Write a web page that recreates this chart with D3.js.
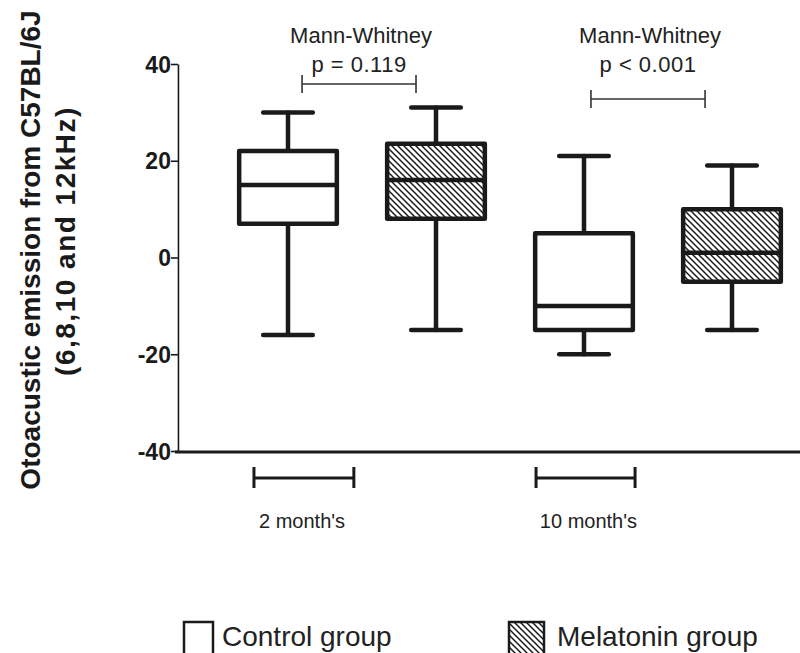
<!DOCTYPE html>
<html>
<head>
<meta charset="utf-8">
<script src="https://cdn.jsdelivr.net/npm/d3@7"></script>
<style>
  html, body { margin: 0; padding: 0; background: #fff; }
  svg { display: block; }
  text { font-family: "Liberation Sans", Arial, sans-serif; fill: #1a1a1a; }
</style>
</head>
<body>
<svg id="chart" width="800" height="653"></svg>
<script>
// ---------- data ----------
const categories = ["2 month's", "10 month's"];
const seriesNames = ["Control group", "Melatonin group"];
// five-number summaries: [min, q1, median, q3, max], one per category
const controlStats   = [[-16, 7, 15, 22, 30], [-20, -15, -10, 5, 21]];
const melatoninStats = [[-15, 8, 16, 23.5, 31], [-15, -5, 1, 10, 19]];
const yTicks = [-40, -20, 0, 20, 40];
const testName = "Mann-Whitney";
const pLabels = ["p = 0.119", "p < 0.001"];

// ---------- layout ----------
const svg = d3.select("#chart");
const ink = "#1a1a1a";

const y = d3.scaleLinear().domain([-40, 40]).range([451, 64]);
// slot index -> pixel (box slots 0..3)
const x = d3.scaleLinear().domain([0, 1]).range([288, 436]);
const axisX = x(-0.7435);
const boxW = x(0.66) - x(0);
const capW = x(0.335) - x(0);

// boxes
const boxes = [];
categories.forEach((c, ci) => {
  boxes.push({ slot: ci * 2,     stats: controlStats[ci],   hatched: false });
  boxes.push({ slot: ci * 2 + 1, stats: melatoninStats[ci], hatched: true  });
});

// hatch pattern
const defs = svg.append("defs");
const pat = defs.append("pattern")
  .attr("id", "hatch").attr("patternUnits", "userSpaceOnUse")
  .attr("width", 6).attr("height", 6);
pat.append("rect").attr("width", 6).attr("height", 6).attr("fill", "#fff");
pat.append("path")
  .attr("d", "M0,0 L6,6 M-3,3 L3,9 M3,-3 L9,3")
  .attr("stroke", ink).attr("stroke-width", 1.5);

// y axis
const yAxis = d3.axisLeft(y).tickValues(yTicks).tickFormat(d => String(d))
  .tickSize(7).tickSizeOuter(0).tickPadding(0);
const gy = svg.append("g").attr("transform", `translate(${axisX},0)`).call(yAxis);
gy.select(".domain").attr("stroke", ink).attr("stroke-width", 1.6);
gy.selectAll(".tick line").attr("stroke", ink).attr("stroke-width", 1.6);
gy.selectAll(".tick text")
  .style("font-family", '"Liberation Sans", Arial, sans-serif')
  .style("font-size", "23px").style("font-weight", "bold").attr("fill", ink)
  .attr("dy", "0.35em");

// x axis baseline
svg.append("line")
  .attr("x1", axisX - 3).attr("x2", 800)
  .attr("y1", y(-40) + 1).attr("y2", y(-40) + 1)
  .attr("stroke", ink).attr("stroke-width", 3);

// box plots
const gb = svg.append("g").attr("stroke", ink).attr("stroke-width", 4.5)
  .attr("stroke-linecap", "round").attr("stroke-linejoin", "round");
boxes.forEach(b => {
  const [mn, q1, md, q3, mx] = b.stats;
  const cx = x(b.slot);
  const g = gb.append("g");
  g.append("line").attr("x1", cx).attr("x2", cx).attr("y1", y(mx)).attr("y2", y(q3));
  g.append("line").attr("x1", cx).attr("x2", cx).attr("y1", y(q1)).attr("y2", y(mn));
  g.append("line").attr("x1", cx - capW / 2).attr("x2", cx + capW / 2).attr("y1", y(mx)).attr("y2", y(mx));
  g.append("line").attr("x1", cx - capW / 2).attr("x2", cx + capW / 2).attr("y1", y(mn)).attr("y2", y(mn));
  g.append("rect")
    .attr("x", cx - boxW / 2).attr("width", boxW)
    .attr("y", y(q3)).attr("height", y(q1) - y(q3))
    .attr("fill", b.hatched ? "url(#hatch)" : "#fff");
  g.append("line").attr("x1", cx - boxW / 2).attr("x2", cx + boxW / 2).attr("y1", y(md)).attr("y2", y(md));
});

// category brackets under the axis + labels
const catBrackets = [[-0.23, 0.445], [1.676, 2.345]];
const catLabelPos = [0.095, 2.03];
const gc = svg.append("g").attr("stroke", ink).attr("stroke-width", 3);
catBrackets.forEach(([a, b]) => {
  const yy = 478;
  gc.append("line").attr("x1", x(a)).attr("x2", x(b)).attr("y1", yy).attr("y2", yy);
  gc.append("line").attr("x1", x(a)).attr("x2", x(a)).attr("y1", yy - 11).attr("y2", yy + 10);
  gc.append("line").attr("x1", x(b)).attr("x2", x(b)).attr("y1", yy - 11).attr("y2", yy + 10);
});
categories.forEach((c, i) => {
  svg.append("text").attr("x", x(catLabelPos[i])).attr("y", 528)
    .attr("text-anchor", "middle").style("font-size", "20px").style("fill", "#222").text(c);
});

// significance brackets
const sigBrackets = [[0.095, 0.865, 84], [2.047, 2.818, 99]];
const gs = svg.append("g").attr("stroke", "#333").attr("stroke-width", 1.6);
sigBrackets.forEach(([a, b, yy], i) => {
  gs.append("line").attr("x1", x(a)).attr("x2", x(b)).attr("y1", yy).attr("y2", yy);
  gs.append("line").attr("x1", x(a)).attr("x2", x(a)).attr("y1", yy - 9).attr("y2", yy + 9);
  gs.append("line").attr("x1", x(b)).attr("x2", x(b)).attr("y1", yy - 9).attr("y2", yy + 9);
  const cx = (x(a) + x(b)) / 2;
  svg.append("text").attr("x", cx + 2).attr("y", 43).attr("text-anchor", "middle")
    .style("font-size", "22px").style("fill", "#222").text(testName);
  svg.append("text").attr("x", cx).attr("y", 72).attr("text-anchor", "middle")
    .style("font-size", "22px").style("fill", "#222").style("letter-spacing", "0.5px").text(pLabels[i]);
});

// y axis title
const yt = svg.append("text").attr("transform", "translate(0,250) rotate(-90)")
  .attr("text-anchor", "middle").style("font-size", "28px").style("font-weight", "bold");
yt.append("tspan").attr("x", 0).attr("y", 40).text("Otoacustic emission from C57BL/6J");
yt.append("tspan").attr("x", 9).attr("y", 75).style("letter-spacing", "1.5px").text("(6,8,10 and 12kHz)");

// legend
const legend = [
  { name: seriesNames[0], hatched: false, x: 184, w: 29, tx: 222 },
  { name: seriesNames[1], hatched: true,  x: 509, w: 35, tx: 557 }
];
legend.forEach(l => {
  svg.append("rect").attr("x", l.x).attr("y", 622).attr("width", l.w).attr("height", 40)
    .attr("fill", l.hatched ? "url(#hatch)" : "#fff")
    .attr("stroke", ink).attr("stroke-width", 2.5);
  svg.append("text").attr("x", l.tx).attr("y", 646).style("font-size", "28px").style("fill", "#222").text(l.name);
});
</script>
</body>
</html>
